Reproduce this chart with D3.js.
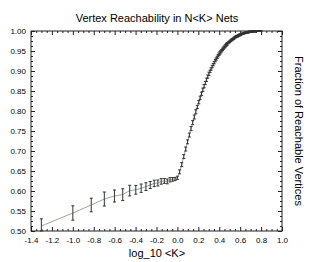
<!DOCTYPE html>
<html><head><meta charset="utf-8">
<script src="https://cdn.jsdelivr.net/npm/d3@7"></script>
<style>
html,body{margin:0;padding:0;background:#fff;}
svg{display:block;font-family:"Liberation Sans",Arial,Helvetica,sans-serif;}
</style></head>
<body>
<svg id="chart" width="314" height="262"></svg>
<script>
const titleText = "Vertex Reachability in N<K> Nets";
const xLabel = "log_10 <K>";
const yLabel = "Fraction of Reachable Vertices";
const xTicks = [-1.4,-1.2,-1.0,-0.8,-0.6,-0.4,-0.2,0.0,0.2,0.4,0.6,0.8,1.0];
const yTicks = [0.50,0.55,0.60,0.65,0.70,0.75,0.80,0.85,0.90,0.95,1.00];

const kValues = [
 0.05,0.10,0.15,0.20,0.25,0.30,0.35,0.40,0.45,0.50,0.55,0.60,0.65,0.70,0.75,0.80,0.85,0.90,0.95,1.00,
 1.05,1.10,1.15,1.20,1.25,1.30,1.35,1.40,1.45,1.50,1.55,1.60,1.65,1.70,1.75,1.80,1.85,1.90,1.95,2.00,
 2.05,2.10,2.15,2.20,2.25,2.30,2.35,2.40,2.45,2.50,2.55,2.60,2.65,2.70,2.75,2.80,2.85,2.90,2.95,3.00,
 3.05,3.10,3.15,3.20,3.25,3.30,3.35,3.40,3.45,3.50,3.55,3.60,3.65,3.70,3.75,3.80,3.85,3.90,3.95,4.00,
 4.05,4.10,4.15,4.20,4.25,4.30,4.35,4.40,4.45,4.50,4.55,4.60,4.65,4.70,4.75,4.80,4.85,4.90,4.95,5.00,
 5.05,5.10,5.15,5.20,5.25,5.30,5.35,5.40,5.45,5.50,5.55,5.60,5.65,5.70,5.75,5.80,5.85,5.90,5.95,6.00,
 6.05,6.10,6.15,6.20,6.25,6.30
];
const reachValues = [
 0.5125,0.545,0.565,0.580,0.5875,0.591,0.601,0.603,0.607,0.611,0.615,0.619,0.620,0.624,0.625,0.624,0.628,0.629,0.630,0.633,
 0.648,0.666,0.686,0.705,0.723,0.740,0.756,0.771,0.785,0.798,0.810,0.822,0.833,0.843,0.853,0.862,0.870,0.878,0.886,0.893,
 0.899,0.905,0.911,0.916,0.921,0.926,0.930,0.934,0.938,0.942,0.945,0.948,0.951,0.954,0.957,0.959,0.962,0.964,0.966,0.968,
 0.970,0.972,0.973,0.975,0.976,0.978,0.979,0.980,0.981,0.983,0.984,0.985,0.986,0.987,0.987,0.988,0.989,0.990,0.990,0.991,
 0.992,0.992,0.993,0.993,0.994,0.994,0.995,0.995,0.995,0.996,0.996,0.996,0.997,0.997,0.997,0.997,0.998,0.998,0.998,0.998,
 0.998,0.998,0.999,0.999,0.999,0.999,0.999,0.999,0.999,0.999,0.999,0.999,1.000,1.000,1.000,1.000,1.000,1.000,1.000,1.000,
 1.000,1.000,1.000,1.000,1.000,1.000
];
const errValues = [
 0.018,0.018,0.017,0.0175,0.015,0.0146,0.0133,0.011,0.0104,0.0096,0.0088,0.008,0.0075,0.007,0.006,0.006,0.0054,0.0045,0.004,0.004,
 0.005,0.005,0.005,0.005,0.005,0.005,0.005,0.005,0.005,0.005,0.004,0.004,0.004,0.004,0.004,0.004,0.004,0.004,0.004,0.004,
 0.003,0.003,0.003,0.003,0.003,0.003,0.003,0.003,0.003,0.003,0.003,0.003,0.003,0.003,0.003,0.003,0.003,0.003,0.003,0.003,
 0.002,0.002,0.002,0.002,0.002,0.002,0.002,0.002,0.002,0.002,0.002,0.002,0.002,0.002,0.002,0.002,0.002,0.002,0.002,0.002,
 0.0015,0.0015,0.0015,0.0015,0.0015,0.0015,0.0015,0.0015,0.0015,0.0015,0.0015,0.0015,0.0015,0.0015,0.0015,0.0015,0.0015,0.0015,0.0015,0.0015,
 0.001,0.001,0.001,0.001,0.001,0.001,0.001,0.001,0.001,0.001,0.001,0.001,0.001,0.001,0.001,0.001,0.001,0.001,0.001,0.001,
 0.001,0.001,0.001,0.001,0.001,0.001
];

const data = kValues.map((k,i)=>({x:Math.log10(k), y:reachValues[i], e:errValues[i]}));

const svg = d3.select("#chart");
const L=31, R=282, T=31, B=231;
const x = d3.scaleLinear().domain([-1.4,1.0]).range([L,R]);
const y = d3.scaleLinear().domain([0.5,1.0]).range([B,T]);
const ink = "#222";

// minor tick values (derived from major tick spacing)
const xMinor = d3.range(0,49).map(i=>-1.4+i*0.05).filter(v=>!xTicks.some(t=>Math.abs(t-v)<1e-6));
const yMinor = d3.range(0,41).map(i=>0.5+i*0.0125).filter(v=>!yTicks.some(t=>Math.abs(t-v)<1e-6));

function styleAxis(g){
  g.select(".domain").remove();
  g.selectAll("line").attr("stroke",ink).attr("stroke-width",1);
  g.selectAll("text").attr("fill","#000").style("font-size","8px");
}
// bottom
svg.append("g").attr("transform",`translate(0,${B})`)
  .call(d3.axisBottom(x).tickValues(xTicks).tickSizeInner(-4).tickSizeOuter(0).tickPadding(6).tickFormat(d=>d.toFixed(1)))
  .call(styleAxis);
svg.append("g").attr("transform",`translate(0,${B})`)
  .call(d3.axisBottom(x).tickValues(xMinor).tickSizeInner(-2).tickSizeOuter(0).tickFormat(""))
  .call(styleAxis);
// top
svg.append("g").attr("transform",`translate(0,${T})`)
  .call(d3.axisTop(x).tickValues(xTicks).tickSizeInner(-4).tickSizeOuter(0).tickFormat(""))
  .call(styleAxis);
svg.append("g").attr("transform",`translate(0,${T})`)
  .call(d3.axisTop(x).tickValues(xMinor).tickSizeInner(-2).tickSizeOuter(0).tickFormat(""))
  .call(styleAxis);
// left
svg.append("g").attr("transform",`translate(${L},0)`)
  .call(d3.axisLeft(y).tickValues(yTicks).tickSizeInner(-4).tickSizeOuter(0).tickPadding(5).tickFormat(d=>d.toFixed(2)))
  .call(styleAxis);
svg.append("g").attr("transform",`translate(${L},0)`)
  .call(d3.axisLeft(y).tickValues(yMinor).tickSizeInner(-2).tickSizeOuter(0).tickFormat(""))
  .call(styleAxis);
// right
svg.append("g").attr("transform",`translate(${R},0)`)
  .call(d3.axisRight(y).tickValues(yTicks).tickSizeInner(-4).tickSizeOuter(0).tickFormat(""))
  .call(styleAxis);
svg.append("g").attr("transform",`translate(${R},0)`)
  .call(d3.axisRight(y).tickValues(yMinor).tickSizeInner(-2).tickSizeOuter(0).tickFormat(""))
  .call(styleAxis);

// frame
svg.append("rect").attr("x",L).attr("y",T).attr("width",R-L).attr("height",B-T)
  .attr("fill","none").attr("stroke",ink).attr("stroke-width",1);

// connecting line
svg.append("path").datum(data)
  .attr("d", d3.line().x(d=>x(d.x)).y(d=>y(d.y)))
  .attr("fill","none").attr("stroke","#9aa89a").attr("stroke-width",1);

// error bars
const eb = svg.append("g").attr("stroke","#333").attr("stroke-width",1).attr("fill","none");
const cap = 1.5;
eb.selectAll("path").data(data).join("path")
  .attr("d", d=>{
    const cx = x(d.x), y1 = y(Math.max(0.5,d.y-d.e)), y2 = y(d.y+d.e);
    return `M${cx},${y1}V${y2}M${cx-cap},${y2}H${cx+cap}M${cx-cap},${y1}H${cx+cap}`;
  });

// title and labels
svg.append("text").attr("x",157).attr("y",22).attr("text-anchor","middle")
  .style("font-size","11px").attr("fill","#000").text(titleText);
svg.append("text").attr("x",157).attr("y",257).attr("text-anchor","middle")
  .style("font-size","11px").attr("fill","#000").text(xLabel);
svg.append("text").attr("transform","translate(295,131) rotate(90)").attr("text-anchor","middle")
  .style("font-size","11px").attr("fill","#000").text(yLabel);
</script>
</body></html>
